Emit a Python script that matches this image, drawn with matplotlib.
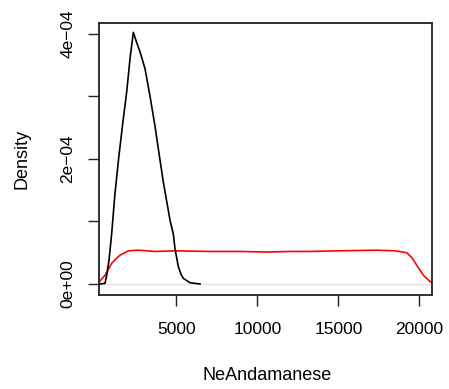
import numpy as np
import matplotlib
matplotlib.use("Agg")
from matplotlib import pyplot as plt

plt.rcParams['font.family'] = ['Liberation Sans', 'DejaVu Sans']

# Density estimates of NeAndamanese (black) and the flat prior (red)
black_x = [290, 599, 704, 846, 1012, 1216, 1463, 1700, 1938, 2142, 2346, 2550, 2759,
           3068, 3377, 3685, 3889, 4198, 4611, 4815, 4920, 5123, 5300, 5432, 5846, 6463]
black_y = [0.0, 0.01, 0.14, 0.38, 0.81, 1.45, 2.06, 2.58, 3.07, 3.60, 4.02, 3.86, 3.71,
           3.44, 3.00, 2.52, 2.16, 1.63, 1.02, 0.80, 0.56, 0.28, 0.15, 0.09, 0.02, 0.0]

red_x = [100, 228, 599, 1012, 1300, 1525, 2037, 2654, 3685, 5000, 7000, 9000, 10580,
         12000, 13253, 15000, 17370, 18500, 19222, 19540, 19840, 20250, 20660, 20900]
red_y = [0.0, 0.03, 0.14, 0.33, 0.41, 0.46, 0.53, 0.54, 0.52, 0.53, 0.52, 0.52, 0.51,
         0.52, 0.52, 0.53, 0.54, 0.53, 0.50, 0.42, 0.30, 0.14, 0.04, 0.01]

x_ticks = [5000, 10000, 15000, 20000]
y_ticks = [0, 1e-4, 2e-4, 3e-4, 4e-4]
y_labels = ["0e+00", "", "2e\u221204", "", "4e\u221204"]

fig = plt.figure(figsize=(4.49, 3.89), dpi=100)
ax = fig.add_axes([0.2205, 0.2429, 0.741, 0.698])

ax.axhline(0, color="#e3e3e3", lw=1.0, zorder=1)
ax.plot(black_x, np.array(black_y) * 1e-4, color="black", lw=1.2, zorder=3)
ax.plot(red_x, np.array(red_y) * 1e-4, color="#ff0000", lw=1.2, zorder=2)

ax.set_xlim(228, 20765)
ax.set_ylim(-1.68e-5, 4.17e-4)

ax.set_xticks(x_ticks)
ax.set_xticklabels([str(v) for v in x_ticks])
ax.set_yticks(y_ticks)
ax.set_yticklabels(y_labels, rotation=90, va="center")

ax.tick_params(axis="both", direction="out", length=8, width=1.0,
               labelsize=12.5, color="#222222")
ax.tick_params(axis="x", pad=12)
ax.tick_params(axis="y", pad=9)

for s in ax.spines.values():
    s.set_linewidth(1.3)
    s.set_color("#222222")

fig.text(22 / 449, 1 - 158.7 / 389, "Density", rotation=90,
         ha="center", va="center", fontsize=13)
fig.text(266.7 / 449, 1 - 375 / 389, "NeAndamanese",
         ha="center", va="center", fontsize=13)

fig.savefig("out.png", dpi=100)
